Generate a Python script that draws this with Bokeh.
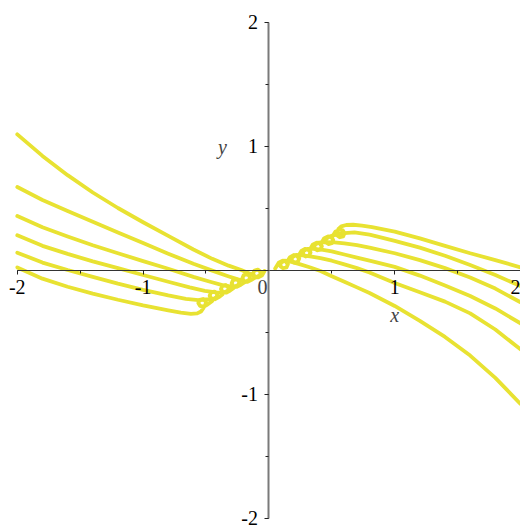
from bokeh.plotting import figure
from bokeh.models import Range1d, SingleIntervalTicker, Label
from bokeh.embed import file_html
from bokeh.resources import INLINE

# ---- left-hand family (x < 0) ----
c1_x = [-2.0, -1.8, -1.6, -1.4, -1.2, -1.0, -0.8, -0.6, -0.45, -0.32, -0.22, -0.15,
        -0.101, -0.069, -0.066, -0.088, -0.115, -0.126, -0.113, -0.085, -0.053, -0.035]
c1_y = [1.094, 0.92, 0.765, 0.625, 0.50, 0.385, 0.275, 0.165, 0.09, 0.035, 0.0, -0.03,
        -0.059, -0.040, -0.014, 0.003, -0.004, -0.030, -0.052, -0.059, -0.042, -0.008]

c2_x = [-2.0, -1.8, -1.6, -1.4, -1.2, -1.0, -0.8, -0.6, -0.45, -0.33, -0.24,
        -0.186, -0.154, -0.151, -0.173, -0.200, -0.211, -0.198, -0.170, -0.138, -0.11]
c2_y = [0.669, 0.565, 0.475, 0.39, 0.303, 0.217, 0.132, 0.05, -0.005, -0.048, -0.078,
        -0.096, -0.077, -0.051, -0.034, -0.041, -0.067, -0.089, -0.096, -0.079, -0.062]

c3_x = [-2.0, -1.8, -1.6, -1.4, -1.2, -1.0, -0.8, -0.6, -0.46, -0.37, -0.31,
        -0.271, -0.239, -0.236, -0.258, -0.285, -0.296, -0.283, -0.255, -0.223, -0.195]
c3_y = [0.436, 0.345, 0.27, 0.20, 0.135, 0.072, 0.01, -0.055, -0.097, -0.122, -0.132,
        -0.136, -0.117, -0.091, -0.074, -0.081, -0.107, -0.129, -0.136, -0.119, -0.10]

c4_x = [-2.0, -1.8, -1.6, -1.4, -1.2, -1.0, -0.8, -0.63, -0.51, -0.42,
        -0.356, -0.324, -0.321, -0.343, -0.370, -0.381, -0.368, -0.340, -0.308, -0.28]
c4_y = [0.28, 0.195, 0.13, 0.07, 0.015, -0.04, -0.095, -0.14, -0.168, -0.18,
        -0.183, -0.164, -0.138, -0.121, -0.128, -0.154, -0.176, -0.183, -0.166, -0.145]

c5_x = [-2.0, -1.8, -1.6, -1.4, -1.2, -1.0, -0.8, -0.66, -0.56, -0.50,
        -0.446, -0.414, -0.411, -0.433, -0.460, -0.471, -0.458, -0.430, -0.398, -0.37]
c5_y = [0.14, 0.06, 0.0, -0.055, -0.11, -0.16, -0.205, -0.233, -0.243, -0.238,
        -0.236, -0.217, -0.191, -0.174, -0.181, -0.207, -0.229, -0.236, -0.219, -0.198]

c6_x = [-2.0, -1.8, -1.6, -1.4, -1.2, -1.0, -0.8, -0.70, -0.62, -0.57, -0.54, -0.522,
        -0.504, -0.501, -0.523, -0.550, -0.561, -0.548, -0.520, -0.488, -0.45]
c6_y = [0.021, -0.07, -0.135, -0.19, -0.24, -0.285, -0.325, -0.343, -0.353, -0.35, -0.335, -0.31,
        -0.277, -0.251, -0.234, -0.241, -0.267, -0.289, -0.296, -0.279, -0.25]

# ---- right-hand family (x > 0) ----
r1_x = [0.05, 0.078, 0.110, 0.138, 0.151, 0.140, 0.113, 0.091, 0.094, 0.126,
        0.18, 0.25, 0.33, 0.41, 0.5, 0.6, 0.7, 0.8, 1.0, 1.2, 1.4, 1.6, 1.8, 2.0]
r1_y = [0.012, 0.059, 0.076, 0.069, 0.047, 0.021, 0.014, 0.031, 0.057, 0.076,
        0.066, 0.045, 0.02, -0.008, -0.05, -0.095, -0.14, -0.185, -0.29, -0.41, -0.54, -0.69, -0.87, -1.08]

r2_x = [0.14, 0.168, 0.200, 0.228, 0.241, 0.230, 0.203, 0.181, 0.184, 0.216,
        0.27, 0.34, 0.41, 0.5, 0.6, 0.7, 0.8, 1.0, 1.2, 1.4, 1.6, 1.8, 2.0]
r2_y = [0.06, 0.104, 0.121, 0.114, 0.092, 0.066, 0.059, 0.076, 0.102, 0.121,
        0.118, 0.108, 0.095, 0.075, 0.045, 0.015, -0.02, -0.105, -0.18, -0.255, -0.35, -0.48, -0.64]

r3_x = [0.23, 0.258, 0.290, 0.318, 0.331, 0.320, 0.293, 0.271, 0.274, 0.306,
        0.36, 0.43, 0.5, 0.6, 0.7, 0.8, 1.0, 1.2, 1.4, 1.6, 1.8, 2.0]
r3_y = [0.105, 0.154, 0.171, 0.164, 0.142, 0.116, 0.109, 0.126, 0.152, 0.171,
        0.171, 0.162, 0.15, 0.125, 0.10, 0.075, 0.025, -0.045, -0.125, -0.21, -0.31, -0.43]

r4_x = [0.32, 0.348, 0.380, 0.408, 0.421, 0.410, 0.383, 0.361, 0.364, 0.396,
        0.45, 0.52, 0.6, 0.7, 0.8, 1.0, 1.2, 1.4, 1.6, 1.8, 2.0]
r4_y = [0.155, 0.204, 0.221, 0.214, 0.192, 0.166, 0.159, 0.176, 0.202, 0.221,
        0.225, 0.222, 0.215, 0.20, 0.18, 0.135, 0.08, 0.015, -0.06, -0.15, -0.26]

r5_x = [0.41, 0.438, 0.470, 0.498, 0.511, 0.500, 0.473, 0.451, 0.454, 0.486,
        0.54, 0.6, 0.68, 0.8, 1.0, 1.2, 1.4, 1.6, 1.8, 2.0]
r5_y = [0.205, 0.254, 0.271, 0.264, 0.242, 0.216, 0.209, 0.226, 0.252, 0.271,
        0.287, 0.298, 0.303, 0.285, 0.235, 0.18, 0.115, 0.04, -0.04, -0.13]

r6_x = [0.50, 0.528, 0.560, 0.588, 0.601, 0.590, 0.563, 0.541, 0.544,
        0.553, 0.575, 0.615, 0.67, 0.74, 0.82, 1.0, 1.2, 1.4, 1.6, 1.8, 2.0]
r6_y = [0.262, 0.309, 0.326, 0.319, 0.297, 0.271, 0.264, 0.281, 0.307,
        0.332, 0.352, 0.363, 0.365, 0.358, 0.346, 0.31, 0.255, 0.195, 0.135, 0.08, 0.021]

curves_x = [c1_x, c2_x, c3_x, c4_x, c5_x, c6_x, r1_x, r2_x, r3_x, r4_x, r5_x, r6_x]
curves_y = [c1_y, c2_y, c3_y, c4_y, c5_y, c6_y, r1_y, r2_y, r3_y, r4_y, r5_y, r6_y]

axis_bounds = (-2, 2)
x_tick_labels = {-2: "-2", -1: "-1", 0: "", 1: "1", 2: "2"}
y_tick_labels = {-2: "-2", -1: "-1", 0: "", 1: "1", 2: "2"}

FONT = "Liberation Serif"
YELLOW = "#E8E232"

p = figure(width=520, height=529, output_backend="svg", toolbar_location=None,
           x_range=Range1d(-2.1335, 2.0), y_range=Range1d(-2.0927, 2.1734),
           min_border=0, background_fill_color="white", border_fill_color="white")
p.outline_line_color = None
p.grid.visible = False

p.multi_line(xs=curves_x, ys=curves_y, line_color=YELLOW, line_width=3.8,
             line_join="round", line_cap="round")

for ax in (p.xaxis[0], p.yaxis[0]):
    ax.fixed_location = 0
    ax.ticker = SingleIntervalTicker(interval=1, num_minor_ticks=2)
    ax.bounds = axis_bounds
    ax.major_tick_in = 0
    ax.major_tick_out = 4
    ax.minor_tick_in = 0
    ax.minor_tick_out = 3
    ax.major_tick_line_color = "#222222"
    ax.minor_tick_line_color = "#222222"
    ax.major_label_text_font = FONT
    ax.major_label_text_font_size = "20px"
    ax.major_label_text_color = "black"

p.xaxis.major_label_overrides = x_tick_labels
p.yaxis.major_label_overrides = y_tick_labels
p.xaxis.axis_line_color = "#333333"
p.xaxis.axis_line_width = 1.2
p.xaxis.major_label_standoff = 6
p.yaxis.axis_line_color = "#7a7a7a"
p.yaxis.axis_line_width = 2
p.yaxis.major_label_standoff = 7

p.add_layout(Label(x=-0.05, y=0, text="0", text_font=FONT, text_font_size="20px",
                   text_align="center", text_baseline="top", y_offset=-10))
p.add_layout(Label(x=1.0, y=-0.36, text="x", text_font=FONT, text_font_size="20px",
                   text_font_style="italic", text_align="center", text_baseline="middle"))
p.add_layout(Label(x=-0.37, y=0.99, text="y", text_font=FONT, text_font_size="20px",
                   text_font_style="italic", text_align="center", text_baseline="middle"))

open("out.html", "w").write(file_html(p, INLINE))
